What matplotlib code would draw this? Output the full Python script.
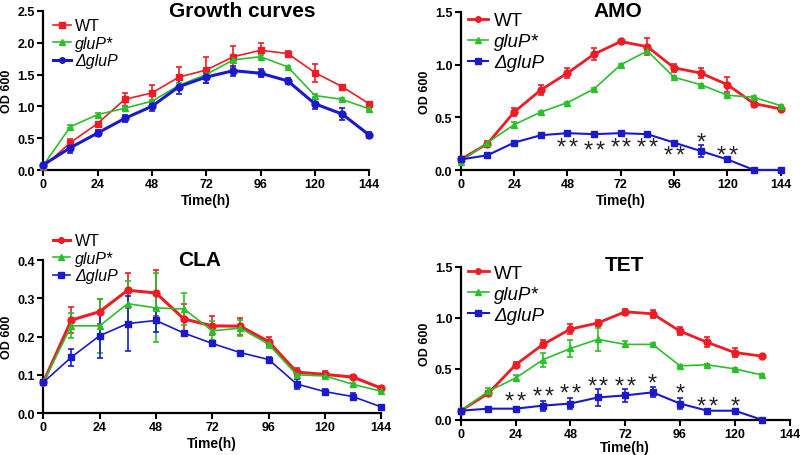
import matplotlib
matplotlib.use("Agg")
import matplotlib.pyplot as plt
import numpy as np

plt.rcParams['font.family'] = ['Liberation Sans', 'DejaVu Sans']

time = [0, 12, 24, 36, 48, 60, 72, 84, 96, 108, 120, 132, 144]
time_tet = time[:-1]
labels = ["WT", "gluP*", "\u0394gluP"]
red = "#ee1c24"
green = "#2bbf2b"
blue = "#1a1acc"

# Growth curves
gc_wt = [0.05, 0.43, 0.73, 1.11, 1.21, 1.46, 1.57, 1.78, 1.88, 1.83, 1.53, 1.31, 1.04]
gc_wt_err = [0.01, 0.05, 0.02, 0.10, 0.12, 0.16, 0.20, 0.17, 0.12, 0.04, 0.14, 0.02, 0.02]
gc_glup = [0.07, 0.68, 0.87, 0.97, 1.08, 1.33, 1.50, 1.73, 1.78, 1.62, 1.17, 1.11, 0.96]
gc_glup_err = [0.01, 0.02, 0.02, 0.02, 0.02, 0.03, 0.03, 0.05, 0.02, 0.02, 0.02, 0.02, 0.02]
gc_del = [0.08, 0.35, 0.58, 0.81, 1.00, 1.31, 1.46, 1.56, 1.52, 1.40, 1.04, 0.88, 0.55]
gc_del_err = [0.01, 0.08, 0.05, 0.05, 0.07, 0.12, 0.10, 0.08, 0.06, 0.05, 0.08, 0.10, 0.05]

# AMO
amo_wt = [0.10, 0.25, 0.55, 0.76, 0.92, 1.10, 1.22, 1.17, 0.97, 0.92, 0.81, 0.63, 0.58]
amo_wt_err = [0.01, 0.03, 0.04, 0.05, 0.05, 0.06, 0.01, 0.08, 0.04, 0.05, 0.07, 0.03, 0.01]
amo_glup = [0.08, 0.26, 0.43, 0.55, 0.64, 0.77, 1.00, 1.13, 0.88, 0.81, 0.71, 0.69, 0.61]
amo_glup_err = [0.01, 0.01, 0.03, 0.01, 0.01, 0.01, 0.01, 0.01, 0.01, 0.01, 0.01, 0.01, 0.01]
amo_del = [0.10, 0.14, 0.26, 0.33, 0.35, 0.34, 0.35, 0.34, 0.26, 0.18, 0.10, 0.0, 0.0]
amo_del_err = [0.01, 0.01, 0.01, 0.01, 0.01, 0.01, 0.01, 0.01, 0.01, 0.06, 0.01, 0.0, 0.0]
amo_star_t = [48, 60, 72, 84, 96, 108, 120]
amo_star_y = [0.262, 0.23, 0.262, 0.256, 0.183, 0.31, 0.183]
amo_star_n = [2, 2, 2, 2, 2, 1, 2]

# CLA
cla_wt = [0.080, 0.243, 0.265, 0.321, 0.314, 0.246, 0.228, 0.227, 0.187, 0.107, 0.101, 0.094, 0.065]
cla_wt_err = [0.002, 0.035, 0.033, 0.046, 0.060, 0.040, 0.025, 0.022, 0.012, 0.010, 0.008, 0.005, 0.003]
cla_glup = [0.080, 0.228, 0.228, 0.286, 0.275, 0.272, 0.215, 0.222, 0.180, 0.100, 0.097, 0.075, 0.057]
cla_glup_err = [0.002, 0.033, 0.070, 0.058, 0.090, 0.041, 0.025, 0.020, 0.010, 0.010, 0.006, 0.003, 0.003]
cla_del = [0.080, 0.146, 0.202, 0.234, 0.242, 0.209, 0.182, 0.158, 0.140, 0.076, 0.056, 0.043, 0.016]
cla_del_err = [0.002, 0.022, 0.058, 0.072, 0.030, 0.004, 0.004, 0.003, 0.006, 0.012, 0.007, 0.010, 0.003]

# TET
tet_wt = [0.09, 0.26, 0.54, 0.74, 0.89, 0.95, 1.06, 1.04, 0.87, 0.76, 0.66, 0.625]
tet_wt_err = [0.01, 0.02, 0.03, 0.04, 0.05, 0.03, 0.03, 0.04, 0.04, 0.05, 0.04, 0.01]
tet_glup = [0.09, 0.28, 0.41, 0.59, 0.70, 0.79, 0.74, 0.74, 0.53, 0.54, 0.50, 0.44]
tet_glup_err = [0.01, 0.03, 0.03, 0.07, 0.08, 0.11, 0.03, 0.01, 0.01, 0.01, 0.01, 0.01]
tet_del = [0.09, 0.11, 0.11, 0.14, 0.16, 0.22, 0.24, 0.27, 0.16, 0.09, 0.09, 0.0]
tet_del_err = [0.01, 0.01, 0.01, 0.05, 0.05, 0.08, 0.06, 0.05, 0.05, 0.01, 0.01, 0.0]
tet_star_t = [24, 36, 48, 60, 72, 84, 96, 108, 120]
tet_star_y = [0.225, 0.28, 0.305, 0.38, 0.38, 0.41, 0.305, 0.183, 0.183]
tet_star_n = [2, 2, 2, 2, 2, 1, 1, 2, 1]

fig = plt.figure(figsize=(8, 4.56), dpi=100)


def panel(rect, t, series, markers, widths, ylim, ystep, title, title_xy,
          legend_anchor, legend_size, legend_spacing, xlabelpad=2):
    ax = fig.add_axes(rect)
    colors = [red, green, blue]
    handles = []
    for (y, err), c, m, w in zip(series, colors, markers, widths):
        ax.errorbar(t, y, yerr=err, fmt='none', ecolor=c, elinewidth=1.2,
                    capsize=2.5, capthick=1.2, clip_on=False, zorder=3)
        ln, = ax.plot(t, y, color=c, marker=m, markersize=5, linewidth=w,
                      clip_on=False, zorder=4)
        handles.append(ln)
    ax.set_xlim(0, 144)
    ax.set_ylim(*ylim)
    ax.set_xticks(range(0, 145, 24))
    ax.set_yticks(np.arange(0, ylim[1] + 1e-9, ystep))
    ax.yaxis.set_major_formatter(matplotlib.ticker.FormatStrFormatter('%.1f'))
    for s in ['top', 'right']:
        ax.spines[s].set_visible(False)
    for s in ['left', 'bottom']:
        ax.spines[s].set_linewidth(1.6)
    ax.tick_params(width=1.5, length=4, labelsize=9, pad=2)
    for lab in ax.get_xticklabels() + ax.get_yticklabels():
        lab.set_fontweight('bold')
    ax.set_xlabel("Time(h)", fontsize=10, fontweight='bold', labelpad=xlabelpad)
    ax.set_ylabel("OD 600", fontsize=9, fontweight='bold', labelpad=3)
    fig.text(title_xy[0], title_xy[1], title, fontsize=15, fontweight='bold',
             ha='center', va='baseline')
    leg = ax.legend(handles, labels, loc='upper left', bbox_to_anchor=legend_anchor,
                    frameon=False, fontsize=legend_size, handlelength=1.1,
                    handletextpad=0.3, labelspacing=legend_spacing, borderpad=0,
                    borderaxespad=0, markerscale=0.8)
    leg.get_texts()[1].set_style('italic')
    leg.get_texts()[2].set_style('italic')
    return ax


def stars(ax, st, sy, sn):
    # significance marks, one '*' per glyph, spread a little apart
    for x, y, n in zip(st, sy, sn):
        for i in range(n):
            dx = (i - (n - 1) / 2) * 8.5
            ax.annotate("*", (x, y), xytext=(dx, -7.9), textcoords='offset points',
                        ha='center', va='baseline', fontsize=17, color='#222222')


ax1 = panel([0.054, 0.625, 0.4075, 0.349], time,
            [(gc_wt, gc_wt_err), (gc_glup, gc_glup_err), (gc_del, gc_del_err)],
            ['s', '^', 'o'], [1.2, 1.2, 2.2], (0, 2.5), 0.5,
            "Growth curves", (0.3025, 0.963), (0.03, 0.952), 11.5, 0.15)

ax2 = panel([0.576, 0.625, 0.40, 0.3465], time,
            [(amo_wt, amo_wt_err), (amo_glup, amo_glup_err), (amo_del, amo_del_err)],
            ['o', '^', 's'], [2.0, 1.2, 1.5], (0, 1.5), 0.5,
            "AMO", (0.7725, 0.963), (0.022, 0.998), 13.5, 0.2)
stars(ax2, amo_star_t, amo_star_y, amo_star_n)

ax3 = panel([0.054, 0.092, 0.4225, 0.3355], time,
            [(cla_wt, cla_wt_err), (cla_glup, cla_glup_err), (cla_del, cla_del_err)],
            ['o', '^', 's'], [2.2, 1.2, 1.2], (0, 0.4), 0.1,
            "CLA", (0.249, 0.4167), (0.028, 1.174), 11.5, 0.15)

ax4 = panel([0.576, 0.077, 0.411, 0.3355], time_tet,
            [(tet_wt, tet_wt_err), (tet_glup, tet_glup_err), (tet_del, tet_del_err)],
            ['o', '^', 's'], [2.0, 1.2, 1.5], (0, 1.5), 0.5,
            "TET", (0.781, 0.4057), (0.022, 1.013), 13.5, 0.2, xlabelpad=0)
stars(ax4, tet_star_t, tet_star_y, tet_star_n)

fig.savefig("out.png", dpi=100)
